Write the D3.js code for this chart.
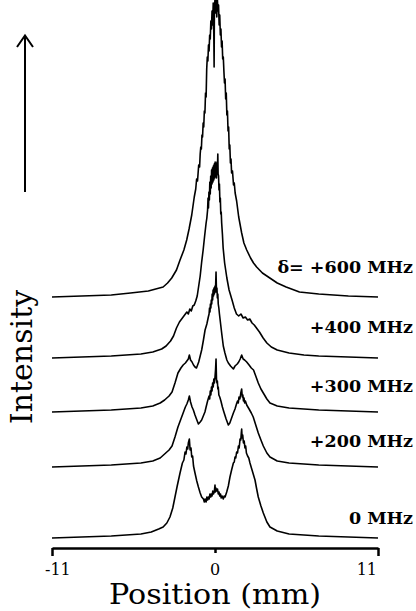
<!DOCTYPE html>
<html>
<head>
<meta charset="utf-8">
<script src="https://cdn.jsdelivr.net/npm/d3@7"></script>
<style>
  html, body { margin: 0; padding: 0; background: #fff; }
  svg { display: block; }
</style>
</head>
<body>
<svg id="chart" width="416" height="611"></svg>
<script>
// ---- Data (position in mm, intensity in arbitrary units) ----
const trace600 = [[-11,0],[-9,1],[-7,2],[-5.7,4],[-4.5,6],[-3.5,10],[-3.2,14],[-2.92,19],[-2.6,27],[-2.36,37],[-2.1,47],[-1.91,57],[-1.75,68],[-1.57,82],[-1.4,100],[-1.3,108],[-1.24,118],[-1.18,116],[-1.1,132],[-1.04,130],
  [-1.0,143],[-0.96,150],[-0.92,148],[-0.88,162],[-0.84,160],[-0.8,174],[-0.76,170],[-0.72,186],[-0.68,184],[-0.64,204],[-0.6,200],
  [-0.56,228],[-0.52,240],[-0.48,236],[-0.44,252],[-0.40,246],[-0.36,262],[-0.32,258],[-0.28,276],[-0.24,268],[-0.20,286],[-0.16,272],[-0.12,294],[-0.08,262],[-0.06,230],[-0.04,288],[0.0,298],[0.04,284],[0.08,300],[0.12,280],[0.16,298],[0.20,286],[0.24,292],[0.28,272],[0.32,282],[0.36,262],[0.40,268],[0.44,250],[0.48,256],[0.52,238],[0.56,240],
  [0.6,226],[0.64,214],[0.68,218],[0.72,198],[0.76,204],[0.8,182],[0.84,186],[0.88,166],[0.92,170],[0.96,148],[1.0,152],[1.04,134],[1.08,138],[1.12,124],[1.18,126],[1.25,112],[1.3,114],[1.36,104],[1.46,96],[1.6,80],[1.8,64],[1.95,54],[2.14,47],[2.4,39],[2.6,34],[2.81,30],[3.2,24],[3.7,19],[4.2,14],[4.8,10],[5.7,5],[7,3],[9,1],[11,0]];

const trace400 = [[-11,0],[-9,1],[-7,2],[-6,3],[-5,4],[-4.2,6],[-3.6,9],[-3.3,12],[-3.0,17],[-2.8,22],[-2.6,30],[-2.4,36],[-2.2,40],[-2.05,43],[-1.9,46],[-1.8,44],[-1.7,49],[-1.6,47],[-1.5,52],[-1.4,53],[-1.3,57],[-1.2,62],[-1.1,72],[-1.0,82],[-0.9,96],[-0.8,108],[-0.7,122],[-0.6,135],[-0.55,140],
  [-0.5,148],[-0.47,160],[-0.44,150],[-0.41,166],[-0.38,158],[-0.35,176],[-0.32,164],[-0.29,182],[-0.26,170],[-0.23,188],[-0.2,174],[-0.17,190],[-0.14,176],[-0.11,192],[-0.08,178],[-0.05,194],[-0.02,180],[0.01,196],[0.04,182],[0.07,194],[0.1,180],[0.13,196],[0.16,186],[0.19,204],[0.21,184],[0.24,182],[0.27,168],[0.3,174],[0.33,156],[0.36,160],[0.39,144],[0.42,146],
  [0.45,135],[0.5,124],[0.55,110],[0.65,95],[0.8,80],[0.95,68],[1.15,58],[1.3,50],[1.45,44],[1.6,42],[1.75,44],[1.9,40],[2.05,41],[2.2,38],[2.35,39],[2.5,35],[2.65,33],[2.8,30],[3.0,26],[3.25,20],[3.5,15],[3.8,11],[4.2,8],[5,5],[6,3],[7,2],[9,1],[11,0]];

const trace300 = [[-11,0],[-9,1],[-7,2],[-6,3],[-5,4],[-4.2,6],[-3.7,9],[-3.4,12],[-3.1,16],[-2.9,20],[-2.7,29],[-2.5,39],[-2.3,44],[-2.15,47],[-2.0,49],[-1.9,51],[-1.8,53],[-1.73,57],[-1.65,52],[-1.55,50],[-1.45,47],[-1.35,45],[-1.25,44],[-1.1,50],[-0.9,62],[-0.78,72],[-0.67,82],[-0.55,88],[-0.45,95],
  [-0.4,98],[-0.37,104],[-0.34,100],[-0.31,108],[-0.28,104],[-0.25,112],[-0.22,108],[-0.19,118],[-0.16,112],[-0.13,122],[-0.1,116],[-0.07,124],[-0.04,118],[0.0,126],[0.03,120],[0.07,140],[0.1,120],[0.13,124],[0.16,114],[0.19,118],[0.22,108],[0.26,104],[0.3,98],
  [0.45,79],[0.56,66],[0.67,59],[0.8,52],[0.9,49],[1.05,46],[1.24,43],[1.35,46],[1.5,48],[1.6,50],[1.7,53],[1.8,57],[1.9,53],[2.0,52],[2.14,50],[2.3,47],[2.45,44],[2.6,42],[2.75,36],[2.92,29],[3.1,23],[3.26,19],[3.5,13],[3.71,9],[4.2,6],[5,4],[6,3],[7,2],[9,1],[11,0]];

const trace200 = [[-11,0],[-9,1],[-7,2],[-6,3],[-5,4],[-4.2,6],[-3.7,9],[-3.4,13],[-3.1,17],[-2.9,21],[-2.7,30],[-2.5,40],[-2.3,48],[-2.15,54],[-2.0,60],[-1.9,63],[-1.8,67],[-1.73,71],[-1.65,65],[-1.55,60],[-1.46,57],[-1.35,52],[-1.25,48],[-1.12,43],[-1.0,45],[-0.9,47],[-0.79,51],[-0.68,55],[-0.6,60],[-0.5,66],
  [-0.4,71],[-0.36,68],[-0.32,76],[-0.28,72],[-0.24,80],[-0.2,76],[-0.16,84],[-0.12,80],[-0.08,88],[-0.04,84],[0.0,90],[0.04,98],[0.07,108],[0.1,88],[0.13,84],[0.16,86],[0.19,78],[0.22,80],[0.26,72],[0.32,70],
  [0.4,66],[0.5,60],[0.6,55],[0.75,48],[0.9,42],[1.0,44],[1.12,49],[1.24,54],[1.35,58],[1.45,63],[1.52,66],[1.57,64],[1.62,70],[1.68,68],[1.74,74],[1.8,78],[1.84,70],[1.88,72],[1.92,66],[1.96,69],[2.0,64],[2.05,66],[2.14,62],[2.3,58],[2.45,54],[2.58,50],[2.75,42],[2.92,34],[3.1,27],[3.26,21],[3.5,14],[3.71,10],[4.2,6],[5,4],[6,3],[7,2],[9,1],[11,0]];

const trace0 = [[-11,0],[-9,1],[-7,2],[-6,3],[-5,4],[-4.3,6],[-3.8,9],[-3.5,11],[-3.25,15],[-3.04,21],[-2.85,30],[-2.7,41],[-2.55,52],[-2.36,65],[-2.2,75],[-2.1,78],[-2.02,86],[-1.96,84],[-1.9,91],[-1.84,89],[-1.8,95],[-1.73,99],[-1.68,88],[-1.62,90],[-1.57,81],[-1.51,82],[-1.45,72],[-1.35,65],[-1.23,57],[-1.12,51],[-1.0,45],[-0.9,41],[-0.78,39],[-0.72,36],[-0.67,39],[-0.6,36],[-0.55,41],[-0.5,38],[-0.45,41],[-0.4,39],[-0.34,44],[-0.29,41],[-0.25,44],[-0.2,42],[-0.15,47],[-0.1,44],[-0.05,46],[0.0,53],[0.03,46],[0.06,50],[0.12,47],[0.17,49],[0.22,44],[0.27,46],[0.32,42],[0.37,44],[0.42,40],[0.48,42],[0.56,39],[0.62,42],[0.68,41],[0.79,46],[0.9,52],[1.01,61],[1.12,68],[1.24,75],[1.3,76],[1.35,81],[1.4,80],[1.46,86],[1.52,85],[1.58,92],[1.63,90],[1.69,99],[1.74,98],[1.78,106],[1.8,109],[1.83,100],[1.87,103],[1.92,95],[1.97,97],[2.02,90],[2.07,92],[2.12,85],[2.2,82],[2.28,80],[2.36,75],[2.5,68],[2.6,63],[2.7,58],[2.8,50],[2.92,41],[3.1,32],[3.26,25],[3.5,16],[3.71,11],[4.2,7],[5,4],[6,3],[7,2],[9,1],[11,0]];

const traces = [trace600, trace400, trace300, trace200, trace0];
const offsets = [241, 180, 126, 71, 0];          // vertical stacking offsets
const labels = ["δ= +600 MHz", "+400 MHz", "+300 MHz", "+200 MHz", "0 MHz"];
const labelLevels = [265, 205, 146, 91, 14];     // label baseline level (intensity units)
const tickValues = [-11, 0, 11];
const tickLabels = ["-11", "0", "11"];

// ---- Drawing ----
const svg = d3.select("#chart");
const x = d3.scaleLinear().domain([-11, 11]).range([52, 378]);
const y = d3.scaleLinear().domain([0, 538]).range([538, 0]);

const g = svg.append("g");
traces.forEach((tr, i) => {
  const line = d3.line().x(d => x(d[0])).y(d => y(d[1] + offsets[i]));
  g.append("path")
    .datum(tr)
    .attr("d", line)
    .attr("fill", "none")
    .attr("stroke", "#000")
    .attr("stroke-width", 1.6)
    .attr("stroke-linejoin", "round");
  g.append("text")
    .attr("x", 413)
    .attr("y", y(labelLevels[i]))
    .attr("text-anchor", "end")
    .attr("font-family", "DejaVu Serif")
    .attr("font-weight", "bold")
    .attr("font-size", 17.5)
    .text(labels[i]);
});

// x axis
const axis = d3.axisBottom(x).tickValues(tickValues).tickSize(8).tickSizeOuter(0).tickFormat("");
const ax = svg.append("g").attr("transform", "translate(0,548)").call(axis);
ax.select(".domain").attr("stroke", "#000").attr("stroke-width", 2.5);
ax.selectAll(".tick line").attr("stroke", "#000").attr("stroke-width", 2.5)
  .attr("y2", d => d === 0 ? 5 : 8);

const anchors = ["start", "middle", "end"];
const shifts = [-7, 0, -1];
tickValues.forEach((t, i) => {
  svg.append("text")
    .attr("x", x(t) + shifts[i])
    .attr("y", 575)
    .attr("text-anchor", anchors[i])
    .attr("font-family", "DejaVu Serif")
    .attr("font-size", 16)
    .text(tickLabels[i]);
});

svg.append("text")
  .attr("x", 109).attr("y", 604)
  .attr("font-family", "DejaVu Serif")
  .attr("font-size", 27)
  .attr("textLength", 212)
  .attr("lengthAdjust", "spacingAndGlyphs")
  .text("Position (mm)");

svg.append("text")
  .attr("transform", "translate(32,357) rotate(-90)")
  .attr("text-anchor", "middle")
  .attr("font-family", "DejaVu Serif")
  .attr("font-size", 30)
  .text("Intensity");

// arrow
svg.append("line").attr("x1", 25).attr("y1", 192).attr("x2", 25).attr("y2", 36)
  .attr("stroke", "#000").attr("stroke-width", 2);
svg.append("path").attr("d", "M17,47 L25,35.5 L33,47")
  .attr("fill", "none").attr("stroke", "#000").attr("stroke-width", 2)
  .attr("stroke-linejoin", "miter");
</script>
</body>
</html>
